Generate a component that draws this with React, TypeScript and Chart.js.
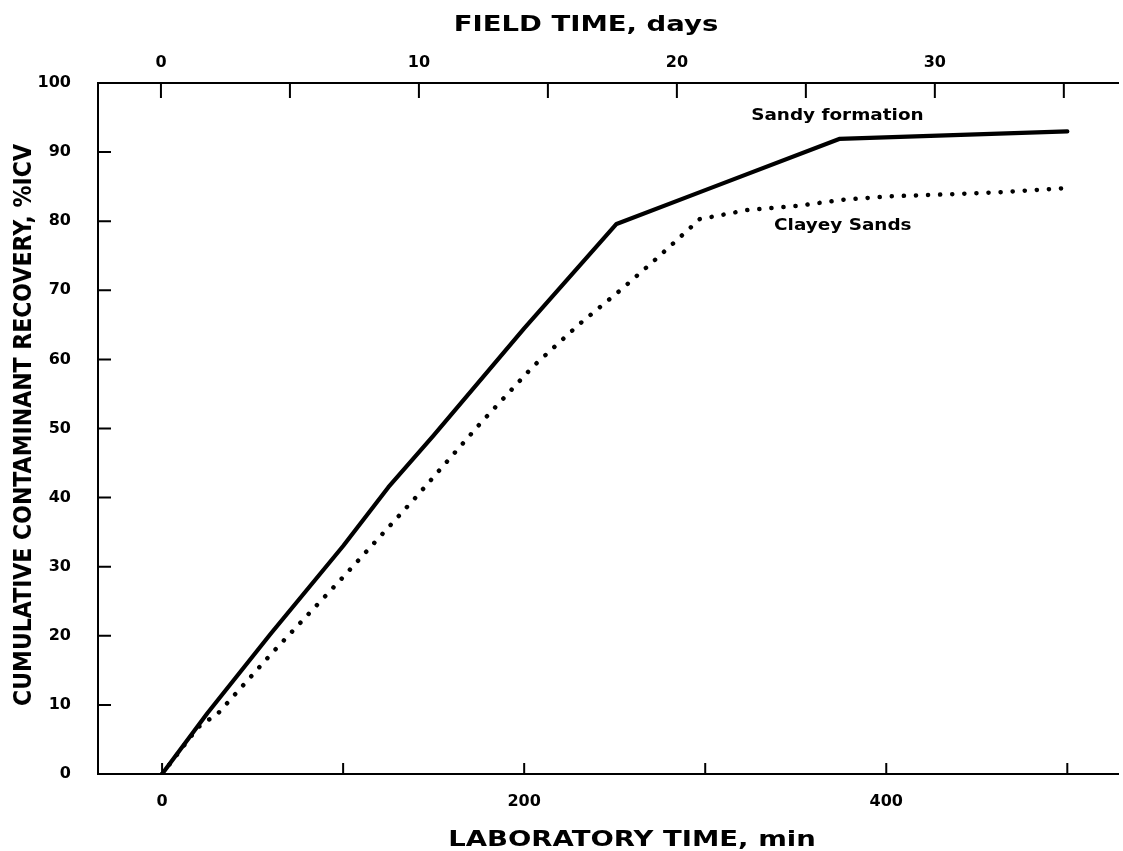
import { useEffect, useRef } from 'react';
import { Chart, registerables } from 'chart.js';

Chart.register(...registerables);

// ---- data ----
const LAB_TICKS = [0, 100, 200, 300, 400, 500];
const LAB_LABELS = [0, 200, 400];
const FIELD_TICKS = [0, 5, 10, 15, 20, 25, 30, 35];
const FIELD_LABELS = [0, 10, 20, 30];
const RECOVERY_TICKS = [0, 10, 20, 30, 40, 50, 60, 70, 80, 90, 100];

const sandyTime = [0, 25, 60, 100, 125, 150, 200, 251, 300, 374, 437, 500];
const sandyRecovery = [0, 8.8, 20.3, 33, 41.5, 49, 64.5, 79.6, 84.5, 91.9, 92.45, 93.0];

const clayeyTime = [0, 20, 31, 60, 100, 140, 176, 205, 230, 254, 274, 297, 323, 350, 376, 402, 435, 463, 500];
const clayeyRecovery = [0, 6.8, 8.8, 17.3, 28.5, 40, 50.8, 59, 65, 70.2, 74.8, 80.3, 81.6, 82.2, 83.1, 83.6, 83.9, 84.2, 84.8];

const SERIES_NAMES = ['Sandy formation', 'Clayey Sands'];
const NOTE_TIME = [373, 376];
const NOTE_RECOVERY = [95.2, 79.3];

const X_TITLE = 'LABORATORY TIME, min';
const X2_TITLE = 'FIELD TIME, days';
const Y_TITLE = 'CUMULATIVE CONTAMINANT RECOVERY, %ICV';

const FONT = 'DejaVu Sans';

const toPoints = (xs: number[], ys: number[]) => xs.map((x, i) => ({ x, y: ys[i] }));

function stretchedText(ctx: any, text: string, cx: number, cy: number, size: number, sx: number, rotate = false) {
  ctx.save();
  ctx.translate(cx, cy);
  ctx.scale(sx, 1);
  if (rotate) ctx.rotate(-Math.PI / 2);
  ctx.font = `bold ${size}px "${FONT}"`;
  ctx.textAlign = 'center';
  ctx.textBaseline = 'middle';
  ctx.fillStyle = '#000';
  ctx.fillText(text, 0, 0);
  ctx.restore();
}

const decorations = {
  id: 'decorations',
  afterDraw(chart: any) {
    const { ctx, chartArea } = chart;
    const x = chart.scales.x;
    const x2 = chart.scales.x2;
    const y = chart.scales.y;
    ctx.save();
    ctx.strokeStyle = '#000';
    ctx.lineWidth = 2;
    ctx.beginPath();
    x.ticks.forEach((t: any) => {
      const px = x.getPixelForValue(t.value);
      ctx.moveTo(px, chartArea.bottom);
      ctx.lineTo(px, chartArea.bottom - 11);
    });
    x2.ticks.forEach((t: any) => {
      const px = x2.getPixelForValue(t.value);
      ctx.moveTo(px, chartArea.top);
      ctx.lineTo(px, chartArea.top + 15);
    });
    y.ticks.forEach((t: any) => {
      const py = y.getPixelForValue(t.value);
      ctx.moveTo(chartArea.left, py);
      ctx.lineTo(chartArea.left + 13, py);
    });
    ctx.stroke();
    ctx.restore();

    // series notes
    SERIES_NAMES.forEach((name, i) => {
      stretchedText(ctx, name, x.getPixelForValue(NOTE_TIME[i]), y.getPixelForValue(NOTE_RECOVERY[i]), 16, 1.15);
    });

    // axis titles
    stretchedText(ctx, X_TITLE, 632, 840, 22, 1.25);
    stretchedText(ctx, X2_TITLE, 586, 25, 22, 1.25);
    stretchedText(ctx, Y_TITLE, 24, 425, 22, 1.15, true);
  },
};

export default function App() {
  const ref = useRef<HTMLCanvasElement>(null);
  useEffect(() => {
    document.body.style.margin = '0';
    const canvas = ref.current!;
    Chart.defaults.color = '#000';
    const chart = new Chart(canvas, {
      type: 'scatter',
      data: {
        datasets: [
          {
            label: SERIES_NAMES[0],
            data: toPoints(sandyTime, sandyRecovery),
            showLine: true,
            borderColor: '#000',
            borderWidth: 4.2,
            pointRadius: 0,
            tension: 0,
            borderJoinStyle: 'round',
            borderCapStyle: 'round',
          },
          {
            label: SERIES_NAMES[1],
            data: toPoints(clayeyTime, clayeyRecovery),
            showLine: true,
            borderColor: '#000',
            borderWidth: 4.5,
            borderDash: [0.1, 12],
            borderCapStyle: 'round',
            pointRadius: 0,
            tension: 0,
          },
        ],
      },
      plugins: [decorations],
      options: {
        responsive: false,
        animation: false,
        layout: { padding: { left: 0, right: 5, top: 0, bottom: 0 } },
        plugins: { legend: { display: false }, tooltip: { enabled: false } },
        scales: {
          x: {
            type: 'linear',
            position: 'bottom',
            min: -35.4,
            max: 528,
            afterFit: (s: any) => { s.height = 77; },
            afterBuildTicks: (s: any) => { s.ticks = LAB_TICKS.map((v) => ({ value: v })); },
            grid: { display: false },
            border: { display: true, color: '#000', width: 2 },
            ticks: {
              padding: 10,
              maxRotation: 0,
              autoSkip: false,
              font: { family: FONT, size: 16, weight: 'bold' },
              callback: (v: any) => (LAB_LABELS.includes(Number(v)) ? String(v) : ''),
            },
            title: { display: false },
          },
          x2: {
            type: 'linear',
            position: 'top',
            min: -2.44,
            max: 37.1,
            afterFit: (s: any) => { s.height = 83; },
            afterBuildTicks: (s: any) => { s.ticks = FIELD_TICKS.map((v) => ({ value: v })); },
            grid: { display: false },
            border: { display: true, color: '#000', width: 2 },
            ticks: {
              padding: 3,
              maxRotation: 0,
              autoSkip: false,
              font: { family: FONT, size: 16, weight: 'bold' },
              callback: (v: any) => (FIELD_LABELS.includes(Number(v)) ? String(v) : ''),
            },
            title: { display: false },
          },
          y: {
            type: 'linear',
            position: 'left',
            min: 0,
            max: 100,
            afterFit: (s: any) => { s.width = 98; },
            afterBuildTicks: (s: any) => { s.ticks = RECOVERY_TICKS.map((v) => ({ value: v })); },
            grid: { display: false },
            border: { display: true, color: '#000', width: 2 },
            ticks: {
              padding: 19,
              autoSkip: false,
              font: { family: FONT, size: 16, weight: 'bold' },
            },
            title: { display: false },
          },
        },
      } as any,
    });
    return () => chart.destroy();
  }, []);
  return <canvas ref={ref} width={1123} height={851} style={{ display: 'block' }} />;
}
